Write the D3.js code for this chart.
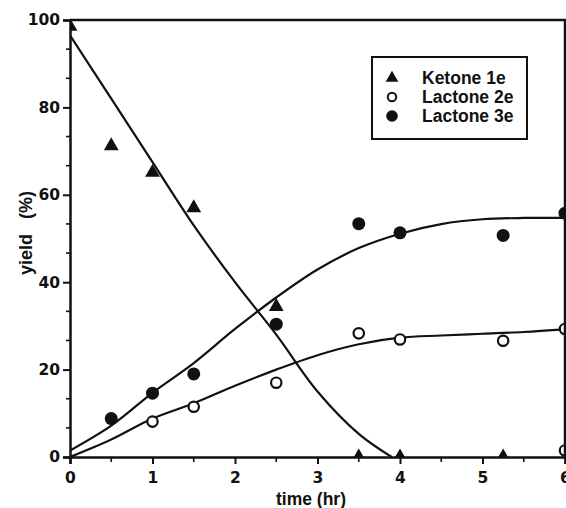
<!DOCTYPE html>
<html>
<head>
<meta charset="utf-8">
<script src="https://cdn.jsdelivr.net/npm/d3@7"></script>
<style>
  body { margin: 0; background: #fff; }
  text { font-family: "Liberation Sans", Arial, sans-serif; font-weight: bold; fill: #111; }
</style>
</head>
<body>
<svg id="chart" width="566" height="508"></svg>
<script>
// measured points (time in hr, yield in %)
const ketonePts = [[0, 98.5], [0.5, 71.2], [1, 65.1], [1.5, 57.0], [2.5, 34.4], [3.5, 0], [4, 0], [5.25, 0]];
const lactone2Pts = [[1, 8.1], [1.5, 11.5], [2.5, 17.0], [3.5, 28.3], [4, 26.9], [5.25, 26.6], [6, 29.3], [6, 1.5]];
const lactone3Pts = [[0.5, 8.8], [1, 14.6], [1.5, 19.0], [2.5, 30.4], [3.5, 53.4], [4, 51.3], [5.25, 50.7], [6, 55.8]];

// fitted curves
const ketoneFit = [[0, 96.5], [0.5, 82], [1, 67.5], [1.5, 53], [2, 40], [2.5, 28], [3, 15], [3.5, 5.3], [3.9, 0]];
const lactone2Fit = [[0, 0], [0.5, 4], [1, 8.8], [1.5, 12.3], [2, 16.3], [2.5, 20], [3, 23.3], [3.5, 25.8], [4, 27.3], [4.5, 27.8], [5, 28.2], [5.5, 28.6], [6, 29.2]];
const lactone3Fit = [[0, 1.5], [0.5, 7.2], [1, 14.7], [1.5, 21.5], [2, 29.3], [2.5, 36.5], [3, 42.9], [3.5, 47.8], [4, 51.1], [4.5, 53.3], [5, 54.4], [5.5, 54.7], [6, 54.7]];

const xTicks = [0, 1, 2, 3, 4, 5, 6];
const yTicks = [0, 20, 40, 60, 80, 100];
const legendLabels = ["Ketone 1e", "Lactone 2e", "Lactone 3e"];

const svg = d3.select("#chart");
const margin = { top: 20, right: 1, bottom: 51, left: 70 };
const width = +svg.attr("width") - margin.left - margin.right;
const height = +svg.attr("height") - margin.top - margin.bottom;

const x = d3.scaleLinear().domain([0, 6]).range([0, width]);
const y = d3.scaleLinear().domain([0, 100]).range([height, 0]);

const g = svg.append("g").attr("transform", `translate(${margin.left},${margin.top})`);

g.append("clipPath").attr("id", "plot-clip")
  .append("rect").attr("width", width).attr("height", height);

const plot = g.append("g").attr("clip-path", "url(#plot-clip)");

// curves
const line = d3.line().x(d => x(d[0])).y(d => y(d[1])).curve(d3.curveCatmullRom.alpha(0.5));
[ketoneFit, lactone2Fit, lactone3Fit].forEach(pts => {
  plot.append("path")
    .attr("d", line(pts))
    .attr("fill", "none")
    .attr("stroke", "#111")
    .attr("stroke-width", 2.2);
});

// markers
const tri = d3.symbol().type(d3.symbolTriangle).size(95);
plot.selectAll(".ket").data(ketonePts).join("path")
  .attr("d", tri)
  .attr("transform", d => `translate(${x(d[0])},${y(d[1])})`)
  .attr("fill", "#111");

plot.selectAll(".l2").data(lactone2Pts).join("circle")
  .attr("cx", d => x(d[0])).attr("cy", d => y(d[1]))
  .attr("r", 5.2)
  .attr("fill", "#fff").attr("stroke", "#111").attr("stroke-width", 2.2);

plot.selectAll(".l3").data(lactone3Pts).join("circle")
  .attr("cx", d => x(d[0])).attr("cy", d => y(d[1]))
  .attr("r", 6.5)
  .attr("fill", "#111");

// frame
g.append("path")
  .attr("d", `M0,0H${width}V${height}`)
  .attr("fill", "none").attr("stroke", "#111").attr("stroke-width", 2.5);

// axes
const xAxis = g.append("g").attr("transform", `translate(0,${height})`)
  .call(d3.axisBottom(x).tickValues(xTicks).tickFormat(d3.format("d")).tickSize(7).tickPadding(8));
const yAxis = g.append("g")
  .call(d3.axisLeft(y).tickValues(yTicks).tickFormat(d3.format("d")).tickSize(7).tickPadding(3));

[xAxis, yAxis].forEach(a => {
  a.select(".domain").attr("stroke", "#111").attr("stroke-width", 2.5);
  a.selectAll(".tick line").attr("stroke", "#111").attr("stroke-width", 2);
  a.selectAll(".tick text")
    .style("font-family", "'DejaVu Sans', Arial, sans-serif")
    .style("font-size", "15.5px")
    .style("font-weight", "bold")
    .style("fill", "#111");
});

// minor ticks
const xMinor = d3.range(0.5, 6, 1);
g.append("g").selectAll("line").data(xMinor).join("line")
  .attr("x1", d => x(d)).attr("x2", d => x(d))
  .attr("y1", height).attr("y2", height + 5)
  .attr("stroke", "#111").attr("stroke-width", 1.6);

const yMinor = d3.range(0, 100, 20).flatMap(v => [v + 20 / 3, v + 40 / 3]);
g.append("g").selectAll("line").data(yMinor).join("line")
  .attr("x1", -4).attr("x2", 0)
  .attr("y1", d => y(d)).attr("y2", d => y(d))
  .attr("stroke", "#111").attr("stroke-width", 1.6);

// axis titles
svg.append("text")
  .attr("x", 311).attr("y", 505)
  .attr("text-anchor", "middle")
  .attr("font-size", 17.5)
  .text("time (hr)");

svg.append("text")
  .attr("transform", "translate(32,233) rotate(-90)")
  .attr("text-anchor", "middle")
  .attr("font-size", 18)
  .style("white-space", "pre")
  .text("yield   (%)");

// legend
const legend = svg.append("g").attr("transform", "translate(372,57)");
legend.append("rect")
  .attr("width", 155).attr("height", 82)
  .attr("fill", "#fff").attr("stroke", "#111").attr("stroke-width", 2);

const rowY = [21, 40, 59];
legend.append("path")
  .attr("d", d3.symbol().type(d3.symbolTriangle).size(70)())
  .attr("transform", `translate(20,${rowY[0]})`).attr("fill", "#111");
legend.append("circle").attr("cx", 20).attr("cy", rowY[1]).attr("r", 4.2)
  .attr("fill", "#fff").attr("stroke", "#111").attr("stroke-width", 2);
legend.append("circle").attr("cx", 20).attr("cy", rowY[2]).attr("r", 5.8)
  .attr("fill", "#111");

legend.selectAll(".lbl").data(legendLabels).join("text")
  .attr("x", 50).attr("y", (d, i) => rowY[i] + 6)
  .attr("font-size", 17.5)
  .text(d => d);
</script>
</body>
</html>
